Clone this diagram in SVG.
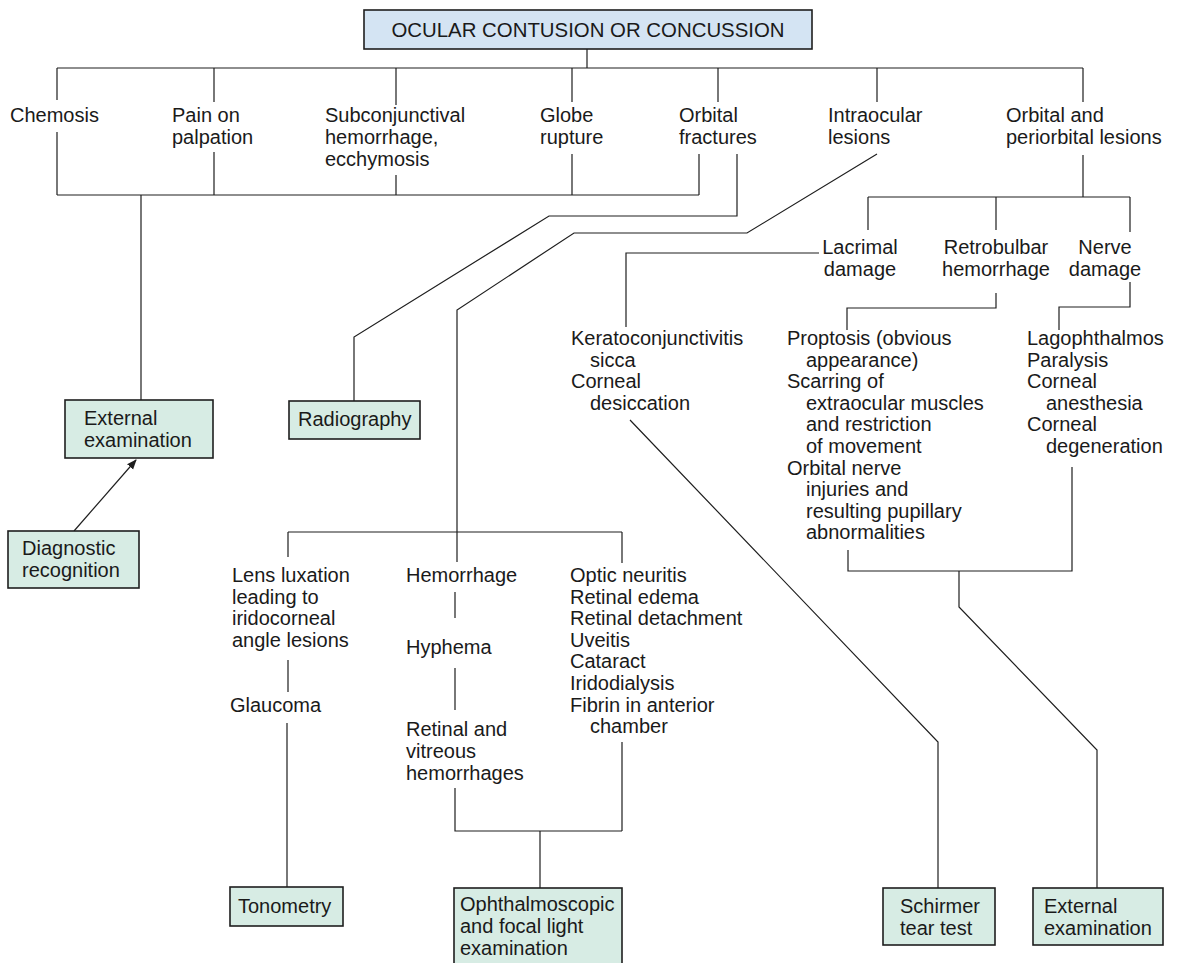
<svg xmlns="http://www.w3.org/2000/svg" width="1181" height="963" viewBox="0 0 1181 963">
<style>
.ln{stroke:#1e1e1e;stroke-width:1.2;fill:none}
.bx{fill:#d7ece4;stroke:#1e1e1e;stroke-width:1.6}
.tb{fill:#d4e4f3;stroke:#1e1e1e;stroke-width:1.6}
text{font-family:"Liberation Sans",Arial,sans-serif;font-size:20px;fill:#1a1a1a}
</style>
<defs>
<marker id="ah" viewBox="0 0 10 10" refX="9" refY="5" markerWidth="10" markerHeight="10" markerUnits="userSpaceOnUse" orient="auto">
<path d="M0,1 L10,5 L0,9 Z" fill="#1e1e1e"/>
</marker>
</defs>
<rect width="1181" height="963" fill="#ffffff"/>
<g id="connectors">
<path class="ln" d="M587,49 V68 M57,68 H1083 M57,68 V100 M214,68 V102 M396,68 V105 M572,68 V102 M718,68 V102 M877,68 V102 M1083,68 V102"/>
<path class="ln" d="M57,132 V195 M214,152 V195 M396,175 V195 M572,154 V195 M699,154 V195 M57,195 H699 M141,195 V400"/>
<path class="ln" d="M737,154 V216 H549 L354,337 V401"/>
<path class="ln" d="M877,154 L747,233 H574 L457,310 V562"/>
<path class="ln" d="M288,532 H622 M288,532 V557 M622,532 V563"/>
<path class="ln" d="M288,660 V692 M287,723 V887"/>
<path class="ln" d="M455,592 V618 M455,668 V710 M455,788 V831 H622 M622,742 V831 M540,831 V888"/>
<path class="ln" d="M1083,155 V197 M868,197 H1130 M868,197 V230 M996,197 V230 M1130,197 V232"/>
<path class="ln" d="M819,253 H626 V327"/>
<path class="ln" d="M996,293 V308 H847 V330"/>
<path class="ln" d="M1130,282 V307 H1059 V330"/>
<path class="ln" d="M630,420 L938,742 V888"/>
<path class="ln" d="M848,550 V571 H1072 V467 M959,571 V607 L1097,750 V888"/>
<path class="ln" d="M74,531 L136,460" marker-end="url(#ah)"/>
</g>
<g id="n-title"><rect class="tb" x="364" y="10" width="448" height="39"/><text x="588" y="37" text-anchor="middle" style="font-size:20.4px">OCULAR CONTUSION OR CONCUSSION</text></g>
<g id="n-chemosis"><text x="10" y="122">Chemosis</text></g>
<g id="n-pain"><text x="172" y="122">Pain on</text><text x="172" y="144">palpation</text></g>
<g id="n-subconj"><text x="325" y="122">Subconjunctival</text><text x="325" y="144">hemorrhage,</text><text x="325" y="166">ecchymosis</text></g>
<g id="n-globe"><text x="540" y="122">Globe</text><text x="540" y="144">rupture</text></g>
<g id="n-orbfract"><text x="679" y="122">Orbital</text><text x="679" y="144">fractures</text></g>
<g id="n-intraocular"><text x="828" y="122">Intraocular</text><text x="828" y="144">lesions</text></g>
<g id="n-orbperi"><text x="1006" y="122">Orbital and</text><text x="1006" y="144">periorbital lesions</text></g>
<g id="n-lacrimal"><text x="860" y="254" text-anchor="middle">Lacrimal</text><text x="860" y="276" text-anchor="middle">damage</text></g>
<g id="n-retrobulbar"><text x="996" y="254" text-anchor="middle">Retrobulbar</text><text x="996" y="276" text-anchor="middle">hemorrhage</text></g>
<g id="n-nerve"><text x="1105" y="254" text-anchor="middle">Nerve</text><text x="1105" y="276" text-anchor="middle">damage</text></g>
<g id="n-kerato"><text x="571" y="345">Keratoconjunctivitis</text><text x="590" y="366.6">sicca</text><text x="571" y="388.2">Corneal</text><text x="590" y="409.8">desiccation</text></g>
<g id="n-proptosis"><text x="787" y="345">Proptosis (obvious</text><text x="806" y="366.6">appearance)</text><text x="787" y="388.2">Scarring of</text><text x="806" y="409.8">extraocular muscles</text><text x="806" y="431.4">and restriction</text><text x="806" y="453">of movement</text><text x="787" y="474.6">Orbital nerve</text><text x="806" y="496.2">injuries and</text><text x="806" y="517.8">resulting pupillary</text><text x="806" y="539.4">abnormalities</text></g>
<g id="n-lagoph"><text x="1027" y="345">Lagophthalmos</text><text x="1027" y="366.6">Paralysis</text><text x="1027" y="388.2">Corneal</text><text x="1046" y="409.8">anesthesia</text><text x="1027" y="431.4">Corneal</text><text x="1046" y="453">degeneration</text></g>
<g id="n-ext1"><rect class="bx" x="65" y="400" width="148" height="58"/><text x="84" y="425">External</text><text x="84" y="447">examination</text></g>
<g id="n-radio"><rect class="bx" x="289" y="401" width="131" height="38"/><text x="298" y="426">Radiography</text></g>
<g id="n-diag"><rect class="bx" x="8" y="531" width="131" height="57"/><text x="22" y="555">Diagnostic</text><text x="22" y="577">recognition</text></g>
<g id="n-lens"><text x="232" y="582">Lens luxation</text><text x="232" y="603.6">leading to</text><text x="232" y="625.2">iridocorneal</text><text x="232" y="646.8">angle lesions</text></g>
<g id="n-glaucoma"><text x="230" y="712">Glaucoma</text></g>
<g id="n-hemorrhage"><text x="406" y="582">Hemorrhage</text></g>
<g id="n-hyphema"><text x="406" y="654">Hyphema</text></g>
<g id="n-retvit"><text x="406" y="736">Retinal and</text><text x="406" y="758">vitreous</text><text x="406" y="780">hemorrhages</text></g>
<g id="n-optic"><text x="570" y="582">Optic neuritis</text><text x="570" y="603.6">Retinal edema</text><text x="570" y="625.2">Retinal detachment</text><text x="570" y="646.8">Uveitis</text><text x="570" y="668.4">Cataract</text><text x="570" y="690">Iridodialysis</text><text x="570" y="711.6">Fibrin in anterior</text><text x="590" y="733.2">chamber</text></g>
<g id="n-tono"><rect class="bx" x="230" y="887" width="113" height="39"/><text x="238" y="913">Tonometry</text></g>
<g id="n-ophth"><rect class="bx" x="454" y="888" width="168" height="80"/><text x="460" y="911">Ophthalmoscopic</text><text x="460" y="933">and focal light</text><text x="460" y="955">examination</text></g>
<g id="n-schirmer"><rect class="bx" x="883" y="888" width="112" height="57"/><text x="900" y="913">Schirmer</text><text x="900" y="935">tear test</text></g>
<g id="n-ext2"><rect class="bx" x="1033" y="888" width="130" height="57"/><text x="1044" y="913">External</text><text x="1044" y="935">examination</text></g>
</svg>
